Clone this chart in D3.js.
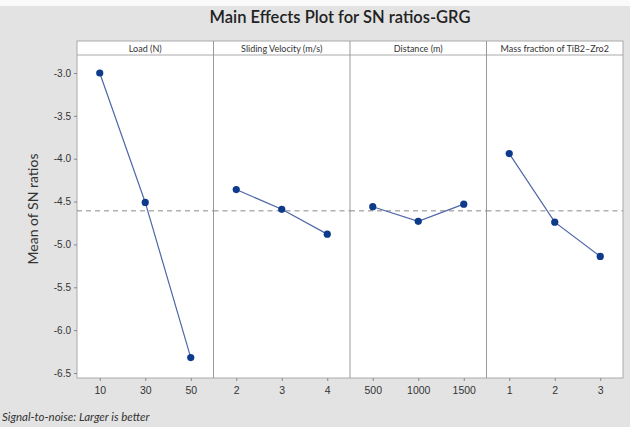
<!DOCTYPE html>
<html>
<head>
<meta charset="utf-8">
<script src="https://d3js.org/d3.v7.min.js"></script>
<style>
  body { margin: 0; background: #e3e3e3; }
  svg { display: block; font-family: Lato, "Open Sans", sans-serif; }
</style>
</head>
<body>
<svg id="chart" width="630" height="427"></svg>
<script>
// factor names shown in the strip headers
var factors = ["Load (N)", "Sliding Velocity (m/s)", "Distance (m)", "Mass fraction of TiB2\u2013Zro2"];
// levels of each factor (x tick labels)
var loadLevels = ["10", "30", "50"];
var velocityLevels = ["2", "3", "4"];
var distanceLevels = ["500", "1000", "1500"];
var massLevels = ["1", "2", "3"];
// mean SN ratio per level
var loadMeans = [-3.00, -4.51, -6.32];
var velocityMeans = [-4.36, -4.59, -4.88];
var distanceMeans = [-4.56, -4.73, -4.53];
var massMeans = [-3.94, -4.74, -5.14];
var yTicks = [-3.0, -3.5, -4.0, -4.5, -5.0, -5.5, -6.0, -6.5];

var levels = [loadLevels, velocityLevels, distanceLevels, massLevels];
var means = [loadMeans, velocityMeans, distanceMeans, massMeans];

var svg = d3.select("#chart");
var left = 77, right = 623, plotTop = 41, stripH = 14, bottom = 378;
var panelW = (right - left) / factors.length;

// grand mean for the reference line
var grand = d3.mean(d3.merge(means));

var y = d3.scaleLinear().domain([-3.0, -6.5]).range([73, 373]);

svg.append("rect").attr("x", 0).attr("y", 0).attr("width", 630).attr("height", 6).attr("fill", "#fafafa");

// title
svg.append("text")
    .attr("x", 340).attr("y", 23)
    .attr("text-anchor", "middle")
    .attr("font-size", "16.5px")
    .attr("font-weight", 600)
    .attr("fill", "#222")
    .text("Main Effects Plot for SN ratios-GRG");

// white plot region + strip
svg.append("rect")
    .attr("x", left).attr("y", plotTop)
    .attr("width", right - left).attr("height", bottom - plotTop)
    .attr("fill", "#fff").attr("stroke", "#aaa");

svg.append("line")
    .attr("x1", left).attr("x2", right)
    .attr("y1", plotTop + stripH).attr("y2", plotTop + stripH)
    .attr("stroke", "#aaa");

// y axis
var yAxis = d3.axisLeft(y).tickValues(yTicks)
    .tickFormat(function(d){ return d.toFixed(1); }).tickSize(3);
var ya = svg.append("g").attr("transform", "translate(" + left + ",0)").call(yAxis);
ya.select(".domain").remove();
ya.selectAll("line").attr("stroke", "#888");
ya.selectAll("text").attr("font-size", "10px").attr("fill", "#333");

svg.append("text")
    .attr("transform", "translate(38,209) rotate(-90)")
    .attr("text-anchor", "middle")
    .attr("font-size", "14px")
    .attr("fill", "#333")
    .text("Mean of SN ratios");

factors.forEach(function(f, i){
    var x0 = left + i * panelW;
    var x = d3.scalePoint().domain(levels[i]).range([x0, x0 + panelW]).padding(0.5);

    if (i > 0) {
        svg.append("line")
            .attr("x1", x0).attr("x2", x0)
            .attr("y1", plotTop).attr("y2", bottom)
            .attr("stroke", "#999");
    }

    svg.append("text")
        .attr("x", x0 + panelW / 2).attr("y", plotTop + 10.5)
        .attr("text-anchor", "middle")
        .attr("font-size", "9px")
        .attr("fill", "#333")
        .text(f);

    // grand mean reference
    svg.append("line")
        .attr("x1", x0).attr("x2", x0 + panelW)
        .attr("y1", y(grand)).attr("y2", y(grand))
        .attr("stroke", "#888").attr("stroke-dasharray", "5,4");

    var xa = svg.append("g")
        .attr("transform", "translate(0," + bottom + ")")
        .call(d3.axisBottom(x).tickSize(3).tickPadding(6));
    xa.select(".domain").remove();
    xa.selectAll("line").attr("stroke", "#888");
    xa.selectAll("text").attr("font-size", "10.5px").attr("fill", "#333");

    var pts = levels[i].map(function(l, j){ return [x(l), y(means[i][j])]; });
    svg.append("path")
        .attr("d", d3.line()(pts))
        .attr("fill", "none")
        .attr("stroke", "#4f67a8")
        .attr("stroke-width", 1.2);

    svg.selectAll(".dot" + i)
        .data(pts)
        .enter().append("circle")
        .attr("cx", function(d){ return d[0]; })
        .attr("cy", function(d){ return d[1]; })
        .attr("r", 3.6)
        .attr("fill", "#0d3a8a");
});

svg.append("text")
    .attr("x", 2).attr("y", 421)
    .attr("font-size", "11.5px")
    .attr("font-style", "italic")
    .attr("fill", "#333")
    .text("Signal-to-noise: Larger is better");
</script>
</body>
</html>
